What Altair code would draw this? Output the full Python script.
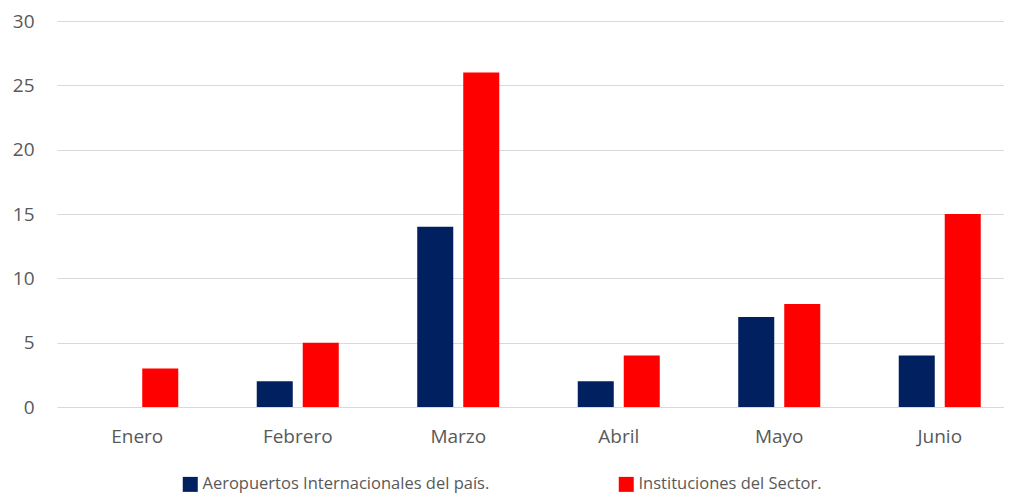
import altair as alt
import pandas as pd

meses = ["Enero", "Febrero", "Marzo", "Abril", "Mayo", "Junio"]
series = ["Aeropuertos Internacionales del país.", "Instituciones del Sector."]
aeropuertos = [0, 2, 14, 2, 7, 4]
instituciones = [3, 5, 26, 4, 8, 15]
colores = ["#002060", "#FF0000"]
y_ticks = [0, 5, 10, 15, 20, 25, 30]

rows = []
for m, a, i in zip(meses, aeropuertos, instituciones):
    rows.append({"mes": m, "serie": series[0], "valor": a})
    rows.append({"mes": m, "serie": series[1], "valor": i})
df = pd.DataFrame(rows)

font = "Open Sans"
gris = "#595959"

chart = alt.Chart(df).mark_bar().encode(
    x=alt.X("mes:N", sort=meses, title=None,
            scale=alt.Scale(range=[0, 963], paddingInner=0, paddingOuter=0),
            axis=alt.Axis(labelAngle=0, domain=False, ticks=False, grid=False,
                          labelPadding=20, labelFontSize=19, labelColor=gris,
                          labelFont=font)),
    xOffset=alt.XOffset("serie:N", sort=series,
                        scale=alt.Scale(paddingInner=0.217, paddingOuter=0.853)),
    y=alt.Y("valor:Q", title=None, scale=alt.Scale(domain=[0, 30], nice=False),
            axis=alt.Axis(values=y_ticks, domain=False, ticks=False, grid=True,
                          gridColor="#D9D9D9", gridWidth=1, labelPadding=23,
                          labelFontSize=19, labelColor=gris, labelFont=font)),
    color=alt.Color("serie:N", sort=series,
                    scale=alt.Scale(domain=series, range=colores),
                    legend=alt.Legend(title=None, orient="none", legendX=125, legendY=455,
                                      direction="horizontal", symbolType="square",
                                      symbolSize=225, symbolStrokeWidth=0,
                                      labelFontSize=16.5, labelColor=gris, labelFont=font,
                                      labelOffset=4, columnPadding=128, labelLimit=500)),
).properties(
    width=947, height=386,
    autosize=alt.AutoSizeParams(type="none"),
    padding={"left": 49, "top": 13, "right": 0, "bottom": 87},
).configure_view(stroke=None)

chart.save("out.html", embed_options={"renderer": "svg", "actions": False})
